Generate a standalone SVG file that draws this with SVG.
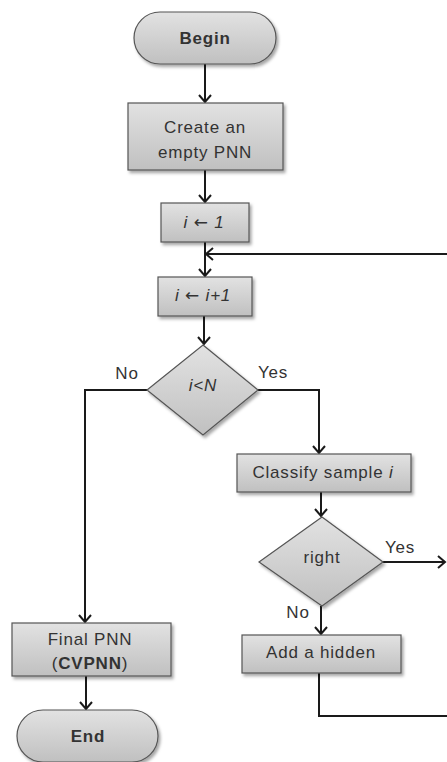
<svg xmlns="http://www.w3.org/2000/svg" width="447" height="762" viewBox="0 0 447 762">
<defs>
<linearGradient id="g" x1="0" y1="0" x2="0" y2="1">
<stop offset="0" stop-color="#e2e2e2"/>
<stop offset="1" stop-color="#c0c0c0"/>
</linearGradient>
<filter id="sh" x="-20%" y="-20%" width="140%" height="150%">
<feDropShadow dx="2" dy="2.5" stdDeviation="1.5" flood-color="#000" flood-opacity="0.35"/>
</filter>
<marker id="arr" markerUnits="userSpaceOnUse" markerWidth="16" markerHeight="16" viewBox="-10 -8 12 16" refX="0" refY="0" orient="auto">
<path d="M-7,-6 L0,0 L-7,6" fill="none" stroke="#1a1a1a" stroke-width="2"/>
</marker>
</defs>
<style>
.n{fill:url(#g);stroke:#555;stroke-width:1.2;filter:url(#sh)}
.t{font-family:"Liberation Sans",Arial,sans-serif;font-size:17px;fill:#333;text-anchor:middle;letter-spacing:0.8px}
.b{font-weight:bold}
.it{font-style:italic}
.ar{font-family:"DejaVu Sans",sans-serif;font-style:normal;font-size:17px}
.c{fill:none;stroke:#1a1a1a;stroke-width:2}
.ca{fill:none;stroke:#1a1a1a;stroke-width:2;marker-end:url(#arr)}
</style>
<g id="connectors">
<line class="ca" x1="205" y1="64" x2="205" y2="102"/>
<line class="ca" x1="205" y1="170" x2="205" y2="202"/>
<line class="ca" x1="205" y1="242" x2="205" y2="276"/>
<line class="ca" x1="447" y1="254" x2="206" y2="254"/>
<line class="ca" x1="204" y1="316" x2="204" y2="344"/>
<polyline class="ca" points="147,390 85,390 85,622"/>
<polyline class="ca" points="258,390 319,390 319,453"/>
<line class="ca" x1="321" y1="492" x2="321" y2="516"/>
<line class="ca" x1="383" y1="562" x2="445" y2="562"/>
<line class="ca" x1="321" y1="606" x2="321" y2="634"/>
<polyline class="c" points="319,673 319,716 447,716"/>
<line class="ca" x1="86" y1="676" x2="86" y2="709"/>
</g>
<g id="begin">
<rect class="n" x="134" y="12" width="142" height="52" rx="26"/>
<text class="t b" x="205" y="44">Begin</text>
</g>
<g id="create">
<rect class="n" x="128" y="103" width="155" height="67"/>
<text class="t" x="205" y="133">Create an</text>
<text class="t" x="205" y="158">empty PNN</text>
</g>
<g id="init">
<rect class="n" x="161" y="203" width="88" height="39"/>
<text class="t it" x="204" y="228">i <tspan class="ar">←</tspan> 1</text>
</g>
<g id="incr">
<rect class="n" x="158" y="277" width="94" height="39"/>
<text class="t it" x="203" y="301">i <tspan class="ar">←</tspan> i+1</text>
</g>
<g id="cond">
<polygon class="n" points="203,345 258,390 203,435 147,390"/>
<text class="t it" x="203" y="391">i&lt;N</text>
<text class="t" x="127" y="379">No</text>
<text class="t" x="273" y="378">Yes</text>
</g>
<g id="classify">
<rect class="n" x="237" y="454" width="174" height="38"/>
<text class="t" x="323" y="478">Classify sample <tspan class="it">i</tspan></text>
</g>
<g id="right">
<polygon class="n" points="322,517 383,562 322,606 259,562"/>
<text class="t" x="322" y="563">right</text>
<text class="t" x="400" y="553">Yes</text>
<text class="t" x="298" y="618">No</text>
</g>
<g id="add">
<rect class="n" x="242" y="635" width="159" height="38"/>
<text class="t" x="321" y="658">Add a hidden</text>
</g>
<g id="final">
<rect class="n" x="12" y="623" width="159" height="53"/>
<text class="t" x="90" y="645">Final PNN</text>
<text class="t" x="90" y="669">(<tspan class="b">CVPNN</tspan>)</text>
</g>
<g id="end">
<rect class="n" x="17" y="710" width="141" height="52" rx="26"/>
<text class="t b" x="88" y="742">End</text>
</g>
</svg>
